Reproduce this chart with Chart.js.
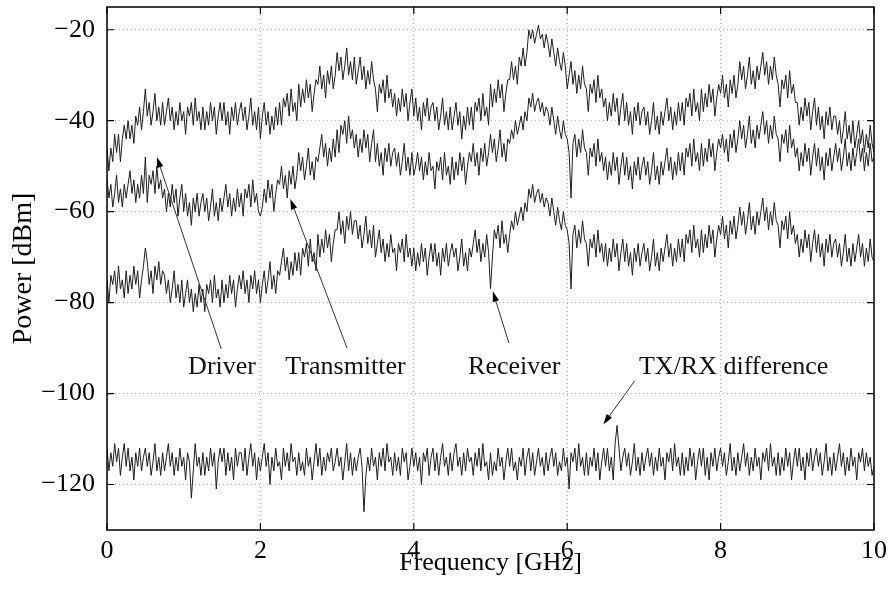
<!DOCTYPE html>
<html>
<head>
<meta charset="utf-8">
<script src="https://cdn.jsdelivr.net/npm/chart.js@4/dist/chart.umd.min.js"></script>
<style>
  body { margin: 0; background: #fff; }
</style>
</head>
<body>
<canvas id="psd" width="893" height="591"></canvas>
<script>
// frequency samples [GHz]
const freqGHz = [
  0,0.025,0.05,0.075,0.1,0.125,0.15,0.175,0.2,0.225,0.25,0.275,0.3,0.325,0.35,0.375,0.4,0.425,0.45,0.475,
  0.5,0.525,0.55,0.575,0.6,0.625,0.65,0.675,0.7,0.725,0.75,0.775,0.8,0.825,0.85,0.875,0.9,0.925,0.95,0.975,
  1,1.025,1.05,1.075,1.1,1.125,1.15,1.175,1.2,1.225,1.25,1.275,1.3,1.325,1.35,1.375,1.4,1.425,1.45,1.475,
  1.5,1.525,1.55,1.575,1.6,1.625,1.65,1.675,1.7,1.725,1.75,1.775,1.8,1.825,1.85,1.875,1.9,1.925,1.95,1.975,
  2,2.025,2.05,2.075,2.1,2.125,2.15,2.175,2.2,2.225,2.25,2.275,2.3,2.325,2.35,2.375,2.4,2.425,2.45,2.475,
  2.5,2.525,2.55,2.575,2.6,2.625,2.65,2.675,2.7,2.725,2.75,2.775,2.8,2.825,2.85,2.875,2.9,2.925,2.95,2.975,
  3,3.025,3.05,3.075,3.1,3.125,3.15,3.175,3.2,3.225,3.25,3.275,3.3,3.325,3.35,3.375,3.4,3.425,3.45,3.475,
  3.5,3.525,3.55,3.575,3.6,3.625,3.65,3.675,3.7,3.725,3.75,3.775,3.8,3.825,3.85,3.875,3.9,3.925,3.95,3.975,
  4,4.025,4.05,4.075,4.1,4.125,4.15,4.175,4.2,4.225,4.25,4.275,4.3,4.325,4.35,4.375,4.4,4.425,4.45,4.475,
  4.5,4.525,4.55,4.575,4.6,4.625,4.65,4.675,4.7,4.725,4.75,4.775,4.8,4.825,4.85,4.875,4.9,4.925,4.95,4.975,
  5,5.025,5.05,5.075,5.1,5.125,5.15,5.175,5.2,5.225,5.25,5.275,5.3,5.325,5.35,5.375,5.4,5.425,5.45,5.475,
  5.5,5.525,5.55,5.575,5.6,5.625,5.65,5.675,5.7,5.725,5.75,5.775,5.8,5.825,5.85,5.875,5.9,5.925,5.95,5.975,
  6,6.025,6.05,6.075,6.1,6.125,6.15,6.175,6.2,6.225,6.25,6.275,6.3,6.325,6.35,6.375,6.4,6.425,6.45,6.475,
  6.5,6.525,6.55,6.575,6.6,6.625,6.65,6.675,6.7,6.725,6.75,6.775,6.8,6.825,6.85,6.875,6.9,6.925,6.95,6.975,
  7,7.025,7.05,7.075,7.1,7.125,7.15,7.175,7.2,7.225,7.25,7.275,7.3,7.325,7.35,7.375,7.4,7.425,7.45,7.475,
  7.5,7.525,7.55,7.575,7.6,7.625,7.65,7.675,7.7,7.725,7.75,7.775,7.8,7.825,7.85,7.875,7.9,7.925,7.95,7.975,
  8,8.025,8.05,8.075,8.1,8.125,8.15,8.175,8.2,8.225,8.25,8.275,8.3,8.325,8.35,8.375,8.4,8.425,8.45,8.475,
  8.5,8.525,8.55,8.575,8.6,8.625,8.65,8.675,8.7,8.725,8.75,8.775,8.8,8.825,8.85,8.875,8.9,8.925,8.95,8.975,
  9,9.025,9.05,9.075,9.1,9.125,9.15,9.175,9.2,9.225,9.25,9.275,9.3,9.325,9.35,9.375,9.4,9.425,9.45,9.475,
  9.5,9.525,9.55,9.575,9.6,9.625,9.65,9.675,9.7,9.725,9.75,9.775,9.8,9.825,9.85,9.875,9.9,9.925,9.95,9.975,
  10
];

// power readings [dBm], one line per 0.5 GHz
const driverDbm = [
  -46,-51,-46,-49,-43,-47,-43,-49,-44,-41, -44,-40,-44,-41,-45,-39,-41,-37,-42,-38,
  -33,-39,-36,-41,-38,-34,-40,-37,-41,-36, -41,-38,-35,-40,-37,-42,-38,-41,-36,-40,
  -38,-43,-37,-39,-36,-41,-35,-40,-38,-42, -37,-42,-38,-41,-36,-40,-37,-43,-39,-36,
  -40,-36,-41,-38,-43,-37,-40,-36,-41,-38, -36,-40,-37,-42,-39,-35,-41,-38,-42,-37,
  -44,-39,-36,-41,-38,-43,-39,-42,-37,-41, -36,-41,-35,-37,-34,-39,-33,-38,-36,-40,
  -32,-37,-33,-36,-31,-35,-32,-38,-34,-31, -32,-28,-33,-30,-35,-29,-32,-28,-33,-30,
  -25,-29,-26,-31,-28,-24,-30,-27,-31,-26, -32,-29,-26,-31,-28,-33,-29,-32,-27,-31,
  -33,-38,-32,-34,-31,-36,-30,-35,-33,-37, -34,-39,-35,-38,-33,-37,-34,-40,-36,-33,
  -39,-35,-40,-37,-42,-36,-39,-35,-40,-37, -36,-40,-37,-42,-39,-35,-41,-38,-42,-37,
  -42,-39,-36,-41,-38,-44,-39,-42,-37,-41, -37,-42,-36,-38,-35,-40,-34,-39,-37,-41,
  -32,-37,-33,-36,-31,-35,-32,-38,-34,-31, -31,-27,-31,-28,-32,-26,-28,-24,-28,-25,
  -20,-22,-20,-23,-21,-19,-22,-21,-24,-21, -23,-26,-22,-25,-28,-24,-27,-29,-25,-28,
  -33,-30,-27,-32,-29,-34,-30,-33,-28,-32, -33,-38,-32,-34,-31,-36,-30,-35,-33,-37,
  -35,-40,-36,-39,-34,-38,-35,-41,-37,-34, -40,-36,-41,-38,-43,-37,-40,-36,-41,-38,
  -37,-41,-38,-43,-40,-36,-42,-39,-43,-38, -41,-38,-35,-40,-37,-42,-38,-41,-36,-40,
  -36,-41,-35,-37,-34,-39,-33,-38,-36,-40, -33,-38,-34,-37,-32,-36,-33,-39,-35,-32,
  -34,-30,-35,-32,-37,-31,-34,-30,-35,-32, -27,-31,-28,-33,-30,-26,-32,-29,-33,-28,
  -31,-28,-25,-30,-27,-32,-28,-31,-26,-30, -32,-37,-31,-33,-30,-35,-29,-34,-32,-36,
  -36,-41,-37,-40,-35,-39,-36,-42,-38,-35, -41,-37,-42,-39,-44,-38,-41,-37,-42,-39,
  -39,-43,-40,-45,-42,-38,-44,-41,-45,-40, -46,-43,-40,-45,-42,-47,-43,-46,-41,-45,
  -47
];

const transmitterDbm = [
  -53,-57,-54,-59,-56,-52,-58,-55,-59,-54, -57,-54,-51,-56,-53,-58,-54,-57,-52,-56,
  -48,-58,-52,-54,-51,-56,-50,-55,-53,-57, -55,-60,-56,-59,-54,-58,-55,-61,-57,-54,
  -60,-56,-61,-58,-63,-57,-60,-56,-61,-58, -56,-60,-57,-62,-59,-55,-61,-58,-62,-57,
  -60,-57,-54,-59,-56,-61,-57,-60,-55,-59, -56,-61,-55,-57,-54,-59,-53,-58,-56,-60,
  -61,-59,-55,-58,-53,-57,-54,-60,-56,-53, -54,-50,-55,-52,-57,-51,-54,-50,-55,-52,
  -47,-51,-48,-53,-50,-46,-52,-49,-53,-48, -49,-46,-43,-48,-45,-50,-46,-49,-44,-48,
  -42,-47,-41,-43,-40,-45,-39,-44,-42,-46, -43,-48,-44,-47,-42,-46,-43,-49,-45,-42,
  -49,-45,-50,-47,-52,-46,-49,-45,-50,-47, -46,-50,-47,-52,-49,-45,-51,-48,-52,-47,
  -52,-50,-47,-51,-48,-53,-49,-52,-47,-51, -50,-55,-49,-51,-48,-53,-47,-52,-50,-54,
  -48,-53,-49,-52,-47,-51,-48,-54,-50,-47, -49,-45,-50,-47,-52,-46,-49,-45,-50,-47,
  -43,-47,-44,-49,-46,-42,-48,-45,-49,-44, -45,-42,-44,-40,-43,-41,-39,-42,-38,-40,
  -35,-37,-34,-38,-36,-35,-38,-36,-39,-37, -38,-41,-37,-40,-43,-39,-42,-44,-40,-43,
  -44,-47,-57,-45,-43,-48,-44,-47,-42,-46, -47,-52,-46,-48,-45,-50,-44,-49,-47,-51,
  -48,-53,-49,-52,-47,-51,-48,-54,-50,-47, -52,-48,-53,-50,-55,-49,-52,-48,-53,-50,
  -48,-52,-49,-54,-51,-47,-53,-50,-54,-49, -52,-49,-46,-51,-48,-53,-49,-52,-47,-51,
  -47,-52,-46,-48,-45,-50,-44,-49,-47,-51, -45,-50,-46,-49,-44,-48,-45,-51,-47,-44,
  -46,-43,-47,-44,-49,-43,-46,-42,-47,-44, -40,-44,-41,-46,-43,-39,-45,-42,-46,-41,
  -44,-41,-38,-43,-40,-45,-41,-44,-39,-43, -44,-49,-43,-45,-42,-47,-41,-46,-44,-48,
  -46,-51,-47,-50,-45,-49,-46,-52,-48,-45, -50,-46,-51,-48,-53,-47,-50,-46,-51,-48,
  -45,-49,-46,-51,-48,-44,-50,-47,-51,-46, -50,-47,-44,-49,-46,-51,-47,-50,-45,-49,
  -48
];

const receiverDbm = [
  -75,-80,-74,-76,-73,-78,-72,-77,-75,-79, -73,-78,-74,-77,-72,-76,-73,-79,-75,-72,
  -68,-71,-76,-73,-78,-72,-75,-71,-76,-73, -74,-78,-75,-80,-77,-73,-79,-76,-80,-75,
  -81,-78,-75,-80,-77,-82,-78,-81,-76,-80, -77,-82,-76,-78,-75,-80,-74,-79,-77,-81,
  -75,-80,-76,-79,-74,-78,-75,-81,-77,-74, -77,-73,-78,-75,-80,-74,-77,-73,-78,-75,
  -80,-76,-73,-78,-75,-71,-77,-74,-78,-73, -74,-71,-68,-73,-70,-75,-71,-74,-69,-73,
  -69,-74,-68,-70,-67,-72,-66,-71,-69,-73, -65,-70,-66,-69,-64,-68,-65,-71,-67,-64,
  -64,-60,-65,-62,-67,-61,-64,-60,-65,-62, -62,-66,-63,-68,-65,-61,-67,-64,-68,-63,
  -70,-67,-64,-69,-66,-71,-67,-70,-65,-69, -68,-73,-67,-69,-66,-71,-65,-70,-68,-72,
  -68,-73,-69,-72,-67,-71,-68,-74,-70,-67, -71,-67,-72,-69,-74,-68,-71,-67,-72,-69,
  -67,-70,-68,-73,-70,-66,-72,-69,-73,-68, -70,-67,-64,-69,-66,-71,-67,-70,-65,-69,
  -77,-70,-64,-66,-63,-68,-62,-67,-65,-69, -65,-62,-64,-60,-63,-61,-59,-62,-58,-60,
  -55,-57,-54,-58,-56,-55,-58,-56,-59,-57, -58,-61,-57,-60,-63,-59,-62,-64,-60,-63,
  -64,-67,-77,-65,-63,-68,-64,-67,-62,-66, -67,-72,-66,-68,-65,-70,-64,-69,-67,-71,
  -67,-72,-68,-71,-66,-70,-67,-73,-69,-66, -71,-67,-72,-69,-74,-68,-71,-67,-72,-69,
  -67,-71,-68,-73,-70,-66,-72,-69,-73,-68, -71,-68,-65,-70,-67,-72,-68,-71,-66,-70,
  -66,-71,-65,-67,-64,-69,-63,-68,-66,-70, -64,-69,-65,-68,-63,-67,-64,-70,-66,-63,
  -65,-61,-66,-63,-68,-62,-65,-61,-66,-63, -59,-63,-60,-65,-62,-58,-64,-61,-65,-60,
  -63,-60,-57,-62,-59,-64,-60,-63,-58,-62, -63,-68,-62,-64,-61,-66,-60,-65,-63,-67,
  -65,-70,-66,-69,-64,-68,-65,-71,-67,-64, -69,-65,-70,-67,-72,-66,-69,-65,-70,-67,
  -66,-70,-67,-72,-69,-65,-71,-68,-72,-67, -71,-68,-65,-70,-67,-72,-68,-71,-66,-70,
  -71
];

const txRxDiffDbm = [
  -112,-117,-113,-116,-111,-115,-112,-118,-114,-111, -116,-112,-117,-114,-119,-113,-116,-112,-117,-114,
  -112,-116,-113,-118,-115,-111,-117,-114,-118,-113, -117,-114,-111,-116,-113,-118,-114,-117,-112,-116,
  -114,-119,-113,-115,-123,-117,-111,-116,-114,-118, -113,-118,-114,-117,-112,-116,-113,-121,-115,-112,
  -115,-112,-118,-113,-117,-114,-119,-112,-116,-113, -113,-117,-112,-118,-114,-111,-116,-113,-119,-114,
  -117,-114,-111,-116,-113,-120,-114,-117,-112,-116, -115,-119,-112,-116,-113,-117,-111,-115,-114,-118,
  -113,-117,-115,-118,-112,-116,-114,-119,-115,-111, -116,-112,-118,-114,-117,-113,-115,-112,-117,-115,
  -112,-116,-114,-119,-115,-111,-117,-113,-118,-114, -117,-114,-112,-116,-126,-118,-114,-117,-112,-116,
  -114,-119,-113,-116,-112,-117,-111,-115,-114,-118, -113,-117,-114,-118,-112,-115,-113,-119,-116,-112,
  -116,-113,-117,-114,-120,-113,-115,-112,-118,-114, -112,-117,-113,-118,-114,-111,-116,-114,-118,-113,
  -117,-113,-111,-116,-114,-118,-113,-117,-112,-115, -114,-118,-113,-116,-112,-117,-111,-116,-115,-119,
  -113,-118,-115,-117,-112,-116,-114,-119,-115,-112, -116,-112,-117,-115,-119,-114,-116,-112,-118,-114,
  -112,-117,-113,-118,-115,-112,-116,-114,-118,-113, -117,-114,-112,-116,-113,-118,-115,-117,-112,-116,
  -114,-121,-113,-115,-112,-117,-111,-116,-114,-118, -113,-118,-114,-116,-112,-117,-113,-119,-115,-112,
  -116,-112,-117,-114,-119,-111,-107,-112,-117,-114, -112,-116,-113,-118,-115,-111,-117,-114,-118,-113,
  -117,-114,-112,-116,-113,-118,-114,-117,-112,-116, -114,-119,-113,-115,-112,-117,-111,-116,-114,-118,
  -113,-118,-114,-117,-112,-116,-113,-119,-115,-112, -116,-112,-118,-114,-119,-113,-116,-112,-117,-114,
  -112,-116,-113,-118,-115,-111,-117,-114,-118,-113, -117,-114,-111,-116,-113,-118,-114,-117,-112,-116,
  -114,-119,-113,-115,-112,-117,-111,-116,-114,-118, -113,-118,-114,-117,-112,-116,-113,-119,-115,-112,
  -116,-112,-117,-114,-119,-113,-116,-112,-117,-114, -112,-116,-113,-118,-115,-111,-117,-114,-118,-113,
  -117,-114,-111,-116,-113,-118,-114,-117,-112,-116, -114,-119,-113,-115,-112,-117,-113,-116,-114,-118,
  -116
];

const xTicks = [0, 2, 4, 6, 8, 10];
const yTicks = [-120, -100, -80, -60, -40, -20];
const noteLabels = ['Driver', 'Transmitter', 'Receiver', 'TX/RX difference'];

const serif = '"Liberation Serif", "Times New Roman", serif';

function toPoints(vals) {
  return vals.map(function(v, i) { return { x: freqGHz[i], y: v }; });
}

function trace(vals) {
  return {
    data: toPoints(vals),
    borderColor: '#1e1e1e',
    borderWidth: 1,
    pointRadius: 0,
    tension: 0
  };
}

// frame, inward ticks and the arrow labels
const framePlugin = {
  id: 'frame',
  afterDatasetsDraw: function(chart) {
    const ctx = chart.ctx;
    const a = chart.chartArea;
    const xs = chart.scales.x, ys = chart.scales.y;
    ctx.save();
    ctx.strokeStyle = '#000';
    ctx.lineWidth = 1.5;
    ctx.strokeRect(a.left, a.top, a.right - a.left, a.bottom - a.top);

    ctx.lineWidth = 1.2;
    ctx.beginPath();
    xTicks.forEach(function(v) {
      const px = xs.getPixelForValue(v);
      ctx.moveTo(px, a.bottom); ctx.lineTo(px, a.bottom - 7);
      ctx.moveTo(px, a.top); ctx.lineTo(px, a.top + 7);
    });
    yTicks.forEach(function(v) {
      const py = ys.getPixelForValue(v);
      ctx.moveTo(a.left, py); ctx.lineTo(a.left + 7, py);
      ctx.moveTo(a.right, py); ctx.lineTo(a.right - 7, py);
    });
    ctx.stroke();

    // label text x, baseline y, arrow tail, arrow head (data coords)
    const notes = [
      [1.50, -95.6, 1.49, -90.2, 0.65, -48.0],
      [3.11, -95.6, 3.13, -90.0, 2.39, -57.2],
      [5.31, -95.6, 5.24, -88.9, 5.03, -77.5],
      [8.17, -95.6, 6.88, -97.2, 6.47, -106.8]
    ];
    ctx.font = '26px ' + serif;
    ctx.textAlign = 'center';
    ctx.textBaseline = 'alphabetic';
    notes.forEach(function(n, i) {
      ctx.fillStyle = '#111';
      ctx.fillText(noteLabels[i], xs.getPixelForValue(n[0]), ys.getPixelForValue(n[1]));
      const x1 = xs.getPixelForValue(n[2]), y1 = ys.getPixelForValue(n[3]);
      const x2 = xs.getPixelForValue(n[4]), y2 = ys.getPixelForValue(n[5]);
      const ang = Math.atan2(y2 - y1, x2 - x1);
      ctx.strokeStyle = '#333';
      ctx.lineWidth = 1;
      ctx.beginPath();
      ctx.moveTo(x1, y1);
      ctx.lineTo(x2 - 8 * Math.cos(ang), y2 - 8 * Math.sin(ang));
      ctx.stroke();
      ctx.fillStyle = '#000';
      ctx.beginPath();
      ctx.moveTo(x2, y2);
      ctx.lineTo(x2 - 11 * Math.cos(ang - 0.3), y2 - 11 * Math.sin(ang - 0.3));
      ctx.lineTo(x2 - 11 * Math.cos(ang + 0.3), y2 - 11 * Math.sin(ang + 0.3));
      ctx.closePath();
      ctx.fill();
    });
    ctx.restore();
  }
};

function minusSign(v) {
  return String(v).replace('-', '\u2212');
}

new Chart(document.getElementById('psd'), {
  type: 'line',
  data: {
    datasets: [trace(driverDbm), trace(transmitterDbm), trace(receiverDbm), trace(txRxDiffDbm)]
  },
  options: {
    responsive: false,
    animation: false,
    devicePixelRatio: 1,
    layout: { padding: { top: 7, right: 19, bottom: 0, left: 0 } },
    plugins: { legend: { display: false }, tooltip: { enabled: false } },
    scales: {
      x: {
        type: 'linear',
        min: 0,
        max: 10,
        afterFit: function(s) { s.height = 61; s.paddingLeft = 0; s.paddingRight = 0; },
        afterBuildTicks: function(s) { s.ticks = xTicks.map(function(v) { return { value: v }; }); },
        grid: { color: '#b5b5b5', lineWidth: 1, drawTicks: false },
        border: { display: false, dash: [1, 3] },
        ticks: { color: '#000', font: { family: serif, size: 26 }, padding: 6, maxRotation: 0, callback: minusSign },
        title: { display: true, text: 'Frequency [GHz]', color: '#000', font: { family: serif, size: 26 }, padding: { top: 0, bottom: 12 } }
      },
      y: {
        min: -130,
        max: -15,
        afterFit: function(s) { s.width = 107; s.paddingTop = 0; s.paddingBottom = 0; },
        afterBuildTicks: function(s) { s.ticks = yTicks.map(function(v) { return { value: v }; }); },
        grid: { color: '#b5b5b5', lineWidth: 1, drawTicks: false },
        border: { display: false, dash: [1, 3] },
        ticks: { color: '#000', font: { family: serif, size: 26 }, padding: 12, callback: minusSign },
        title: { display: true, text: 'Power [dBm]', color: '#000', font: { family: serif, size: 28 }, padding: { top: 7, bottom: 0 } }
      }
    }
  },
  plugins: [framePlugin]
});
</script>
</body>
</html>
